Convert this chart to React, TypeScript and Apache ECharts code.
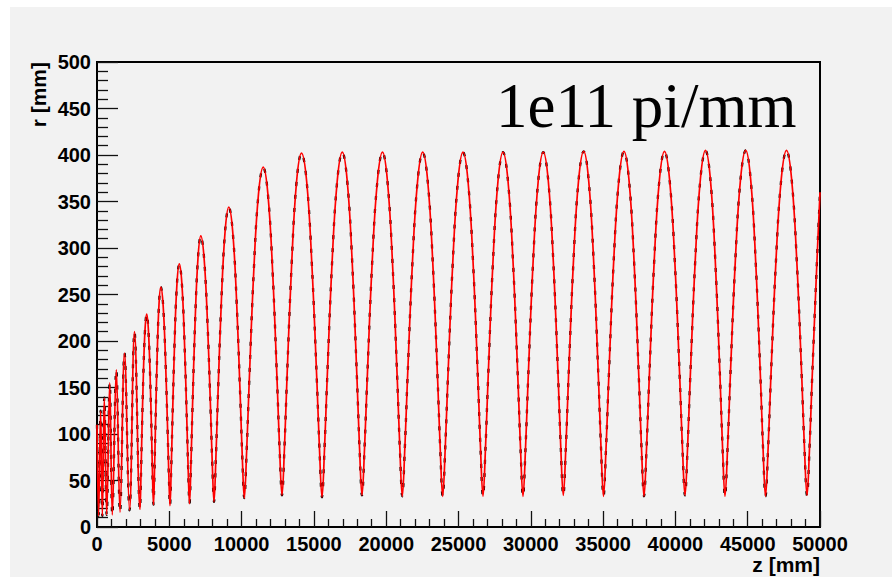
import React, { useEffect, useRef } from "react";
import * as echarts from "echarts";

// Early, fast oscillations (z in mm, r in mm)
const rampPoints: [number, number][] = [
  [0, 110], [110, 12], [250, 125], [370, 12], [505, 139], [671, 13], [880, 155], [1058, 13],
  [1335, 169], [1591, 16], [1902, 187], [2248, 18], [2593, 210],
];

// Growing envelope cycles
const growthPoints: [number, number][] = [
  [2974, 19], [3032, 49], [3090, 90], [3205, 163], [3321, 212], [3437, 229], [3554, 212], [3672, 163], [3789, 90], [3848, 50],
  [3907, 24], [3970, 55], [4033, 101], [4159, 183], [4286, 239], [4412, 258], [4571, 239], [4730, 183], [4889, 101], [4969, 55],
  [5048, 23], [5129, 60], [5209, 110], [5370, 201], [5531, 262], [5692, 283], [5868, 262], [6045, 201], [6221, 110], [6309, 60],
  [6397, 25], [6495, 66], [6592, 122], [6788, 222], [6983, 289], [7178, 313], [7406, 289], [7635, 222], [7863, 122], [7977, 66],
  [8091, 27], [8219, 73], [8347, 134], [8603, 244], [8859, 318], [9115, 344], [9383, 318], [9651, 244], [9919, 134], [10053, 73],
  [10187, 31], [10350, 82], [10514, 151], [10841, 275], [11167, 358], [11494, 387], [11819, 358], [12144, 275], [12469, 151], [12632, 82],
  [12794, 34], [12963, 85], [13131, 157], [13468, 285], [13805, 372], [14142, 402], [14497, 372], [14851, 285], [15206, 157], [15383, 85],
];

// Steady oscillation
const steadyPoints: [number, number][] = [
  [15560, 32], [15736, 85], [15911, 157], [16262, 286], [16613, 372], [16964, 403], [17305, 372], [17645, 286], [17986, 157], [18156, 85],
  [18326, 34], [18503, 85], [18681, 157], [19035, 286], [19390, 372], [19744, 403], [20086, 372], [20429, 286], [20771, 157], [20942, 85],
  [21113, 33], [21289, 85], [21466, 157], [21819, 286], [22171, 372], [22524, 403], [22870, 372], [23216, 286], [23561, 157], [23734, 85],
  [23907, 33], [24083, 85], [24258, 157], [24609, 286], [24960, 372], [25311, 403], [25657, 372], [26003, 286], [26348, 157], [26521, 85],
  [26694, 33], [26867, 85], [27040, 157], [27386, 286], [27731, 372], [28077, 403], [28423, 372], [28769, 286], [29114, 157], [29287, 85],
  [29460, 33], [29636, 85], [29811, 157], [30162, 286], [30513, 372], [30864, 403], [31210, 372], [31556, 286], [31901, 157], [32074, 85],
  [32247, 34], [32423, 85], [32600, 157], [32953, 287], [33305, 373], [33658, 404], [34000, 373], [34343, 287], [34685, 157], [34856, 85],
  [35027, 33], [35204, 85], [35382, 157], [35736, 287], [36091, 373], [36445, 404], [36791, 373], [37137, 287], [37482, 157], [37655, 85],
  [37828, 33], [38005, 85], [38183, 157], [38537, 287], [38892, 373], [39246, 404], [39601, 373], [39955, 287], [40310, 157], [40487, 85],
  [40664, 34], [40841, 85], [41019, 158], [41373, 287], [41728, 374], [42082, 405], [42419, 374], [42756, 287], [43093, 158], [43262, 85],
  [43430, 33], [43609, 85], [43788, 158], [44146, 287], [44504, 374], [44862, 405], [45204, 374], [45547, 287], [45889, 158], [46060, 85],
  [46231, 33], [46413, 85], [46594, 158], [46957, 287], [47320, 374], [47683, 405], [48038, 374], [48392, 287], [48747, 158], [48924, 85],
  [49101, 34], [49276, 85], [49451, 158], [49801, 290], [50000, 360],
];

const X_MIN = 0, X_MAX = 50000, X_STEP = 5000;
const Y_MIN = 0, Y_MAX = 500, Y_STEP = 50;
const X_TITLE = "z [mm]";
const Y_TITLE = "r [mm]";
const ANNOTATION = "1e11 pi/mm";

export default function App() {
  const ref = useRef<HTMLDivElement>(null);
  useEffect(() => {
    if (!ref.current) return;
    const chart = echarts.init(ref.current, null, { renderer: "svg" });
    const data = [...rampPoints, ...growthPoints, ...steadyPoints];
    const sans = "'Liberation Sans', Arial, Helvetica, sans-serif";
    const labelStyle = { color: "#000", fontWeight: "bold" as const, fontSize: 20, fontFamily: sans };
    chart.setOption({
      animation: false,
      backgroundColor: "#ffffff",
      graphic: [
        { type: "rect", z: -10, silent: true, shape: { x: 10, y: 7, width: 882, height: 570 }, style: { fill: "#f2f2f2" } },
        { type: "text", z: 10, x: 820, y: 564, style: { text: X_TITLE, align: "right", verticalAlign: "middle", fill: "#000", font: `bold 21px ${sans}` } },
        { type: "text", z: 10, x: 38, y: 62, rotation: Math.PI / 2, style: { text: Y_TITLE, align: "right", verticalAlign: "middle", fill: "#000", font: `bold 21px ${sans}` } },
        { type: "text", z: 10, x: 496, y: 106, style: { text: ANNOTATION, align: "left", verticalAlign: "middle", fill: "#000", font: `63px 'Liberation Serif', 'Times New Roman', serif` } },
      ],
      grid: { left: 97, top: 62, width: 723, height: 465, show: true, borderColor: "#000", borderWidth: 2, backgroundColor: "transparent" },
      xAxis: {
        type: "value", min: X_MIN, max: X_MAX, interval: X_STEP,
        axisLine: { show: false },
        splitLine: { show: false },
        axisTick: { inside: true, length: 16, lineStyle: { color: "#111", width: 1.3 } },
        minorTick: { show: true, splitNumber: 5, length: 8, lineStyle: { color: "#111", width: 1.3 } },
        axisLabel: { ...labelStyle, margin: 7, showMinLabel: true, showMaxLabel: true, hideOverlap: false, formatter: (v: number) => String(v) },
      },
      yAxis: {
        type: "value", min: Y_MIN, max: Y_MAX, interval: Y_STEP,
        axisLine: { show: false },
        splitLine: { show: false },
        axisTick: { inside: true, length: 21, lineStyle: { color: "#111", width: 1.3 } },
        minorTick: { show: true, splitNumber: 5, length: 11, lineStyle: { color: "#111", width: 1.3 } },
        axisLabel: { ...labelStyle, margin: 6, showMinLabel: true, showMaxLabel: true, formatter: (v: number) => String(v) },
      },
      series: [
        {
          type: "line", data, showSymbol: false, smooth: 0.4, z: 1, silent: true,
          lineStyle: { color: "#000", width: 2.3, type: [4, 9] },
        },
        {
          type: "line", data, showSymbol: false, smooth: 0.4, z: 2, silent: true,
          lineStyle: { color: "#ff0000", width: 1.7 },
        },
      ],
    });
    return () => chart.dispose();
  }, []);
  return <div ref={ref} style={{ position: "absolute", left: 0, top: 0, width: 892, height: 577 }} />;
}
